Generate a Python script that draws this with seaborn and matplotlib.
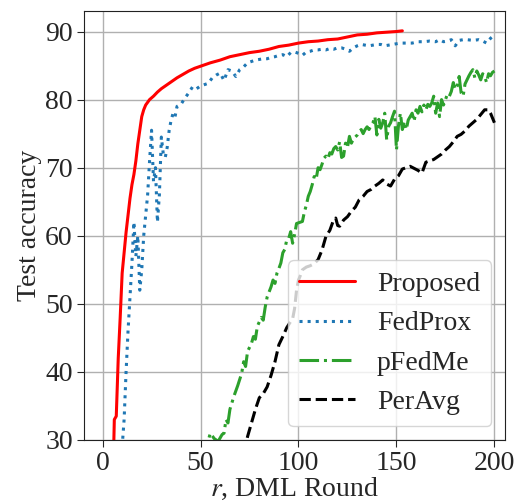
import matplotlib
matplotlib.use("Agg")
import matplotlib.pyplot as plt
import seaborn as sns

# Test accuracy per DML round
proposed_r = [5, 6, 7, 8, 9, 10, 11, 12, 13, 14, 15, 16, 17, 18, 19, 20, 21, 22, 24, 26,
              28, 30, 32, 35, 38, 41, 44, 47, 50, 55, 60, 65, 70, 75, 80, 85, 90, 95, 100,
              105, 110, 115, 120, 125, 130, 135, 140, 145, 150, 153]
proposed_acc = [20, 33, 33.5, 42, 48, 54.5, 57.5, 60.5, 63, 65.5, 67.5, 69, 71, 73.5, 75.5,
                77.5, 78.5, 79.2, 80, 80.5, 81.1, 81.6, 82, 82.6, 83.2, 83.7, 84.2, 84.6,
                84.9, 85.4, 85.8, 86.3, 86.6, 86.9, 87.1, 87.4, 87.8, 88.0, 88.3, 88.5,
                88.6, 88.8, 88.9, 89.2, 89.5, 89.6, 89.8, 89.9, 90.0, 90.1]

fedprox_r = [10, 11, 12, 13, 14, 15, 16, 17, 18, 19, 20, 21, 22, 23, 24, 25, 26, 27, 28, 29,
             30, 31, 32, 33, 34, 35, 36, 37, 38, 40, 42, 44, 46, 48, 50, 52, 54, 56, 58, 60,
             62, 64, 66, 68, 70, 72, 74, 76, 78, 80, 82, 84, 86, 88, 90, 92, 94, 96, 98, 100,
             102, 104, 106, 108, 110, 112, 114, 116, 118, 120, 122, 124, 126, 128, 130, 132,
             134, 136, 138, 140, 142, 144, 146, 148, 150, 152, 155, 158, 161, 164, 167, 170,
             172, 174, 176, 178, 180, 182, 184, 186, 189, 192, 194, 196, 198, 200]
fedprox_acc = [29, 33, 40, 46, 51, 56, 62, 57, 60, 52, 55, 60, 63, 66, 71, 75.5, 68, 70, 62,
               66, 74.5, 72, 71.5, 73, 75.5, 77, 78, 77.5, 79, 79.3, 80.2, 81, 81.9, 81.6,
               82, 82.2, 82.4, 83.2, 83.6, 83.9, 82.8, 84.4, 84.2, 83.4, 84.4, 84.8, 85.4,
               85.6, 85.8, 85.9, 86, 86, 86.2, 86.3, 86.5, 86.6, 86.3, 86.9, 87.0, 86.8,
               86.5, 87.0, 87.1, 87.3, 87.3, 87.4, 87.3, 87.5, 87.4, 87.6, 87.6, 87.4, 87.1,
               87.6, 87.9, 88.1, 88.0, 87.9, 88.0, 88.1, 88.1, 87.9, 88.0, 88.1, 88.2, 88.3,
               88.3, 88.3, 88.5, 88.5, 88.6, 88.5, 88.8, 88.5, 88.6, 88.8, 87.9, 88.7, 88.8,
               88.8, 88.7, 88.8, 88.6, 88.3, 89.0, 89.5]

pfedme_r = [50, 53, 55, 57, 59, 61, 62, 63, 64, 65, 67, 69, 71, 72, 73, 74, 76, 77, 78, 79,
            81, 82, 83, 84, 86, 87, 88, 89, 90, 91, 92, 93, 94, 95, 96, 97, 98, 99, 100,
            101, 102, 103, 104, 105, 106, 107, 108, 109, 110, 111, 112, 113, 114, 115, 116,
            117, 118, 119, 120, 121, 122, 123, 124, 125, 126, 127, 128, 130, 131, 132, 133,
            134, 135, 136, 137, 138, 139, 140, 141, 142, 143, 144, 145, 146, 147, 148, 149,
            150, 151, 152, 153, 154, 155, 156, 157, 158, 159, 160, 161, 162, 163, 164, 165,
            166, 167, 168, 169, 170, 171, 172, 173, 174, 175, 176, 177, 178, 179, 180, 181,
            182, 183, 184, 185, 186, 187, 188, 189, 190, 191, 192, 193, 194, 195, 196, 197,
            198, 199, 200]
pfedme_acc = [27, 29, 31, 30.2, 29.8, 30.8, 31, 33, 32.5, 34.5, 36.4, 38, 39.8, 41.5, 40.8,
              43, 44.2, 45.2, 44.8, 46.7, 48, 47.6, 49.5, 51, 52.5, 53.5, 53, 54.5, 55.2,
              56, 57.5, 58, 59.4, 59.6, 60.6, 58.9, 60.2, 61.8, 61.9, 62.0, 62.1, 63.5,
              64.5, 65.8, 66.5, 67.5, 68.7, 68.3, 70.0, 69.7, 70.5, 71.4, 71.7, 71.3, 72.2,
              72.0, 72.8, 73.1, 72.6, 73.8, 71.5, 71.7, 73.6, 73.0, 74.6, 73.6, 74.2, 74.8,
              75.3, 75.6, 75.0, 75.6, 76.0, 75.6, 76.2, 76.6, 77.5, 74.8, 77.1, 75.8, 76.6,
              78.0, 74.1, 76.1, 76.6, 77.5, 78.3, 72.6, 76.1, 78.0, 75.6, 76.8, 75.6, 77.0,
              77.5, 78.0, 76.8, 78.5, 78.0, 79.0, 78.2, 79.2, 78.5, 79.3, 79.0, 79.5, 80.5,
              78.0, 79.5, 77.5, 80.0, 79.2, 80.0, 80.8, 80.5, 81.2, 82.5, 81.5, 82.0, 83.4,
              81.0, 80.5, 82.3, 82.9, 83.5, 84.0, 84.4, 83.2, 84.2, 83.6, 82.9, 83.8, 83.4,
              82.5, 83.8, 83.5, 84.0, 84.2]

peravg_r = [72, 74, 76, 78, 80, 82, 84, 86, 88, 90, 92, 94, 96, 97, 98, 99, 100, 101, 102,
            104, 106, 108, 110, 112, 114, 116, 118, 119, 120, 121, 123, 125, 127, 129, 131,
            133, 135, 137, 139, 141, 143, 145, 147, 149, 151, 153, 155, 157, 159, 161, 163,
            165, 167, 169, 171, 173, 175, 177, 179, 181, 183, 185, 187, 189, 191, 193, 195,
            197, 198, 200]
peravg_acc = [28, 30.5, 32.5, 34.5, 36.2, 36.8, 37.8, 39.5, 41.5, 44, 45.2, 46.5, 47.4,
              47.8, 49.3, 52, 53.5, 54.2, 55, 55.4, 55.6, 55.9, 56.5, 57.9, 59.9, 60.8,
              62.4, 62.6, 61.5, 61.4, 62.3, 62.8, 63.6, 64.2, 65.3, 65.8, 66.5, 66.8, 67.3,
              67.7, 68.2, 67.6, 67.3, 68.3, 68.8, 69.8, 70.0, 70.2, 69.9, 69.6, 69.2, 70.8,
              71.0, 71.2, 71.6, 72.0, 72.6, 73.1, 73.8, 74.6, 74.9, 75.4, 76.1, 76.6, 77.1,
              77.8, 78.5, 78.5, 78.0, 76.6]

sns.set_style("ticks")
plt.rcParams['font.family'] = ['Liberation Serif', 'DejaVu Serif']
plt.rcParams['mathtext.fontset'] = 'stix'

fig, ax = plt.subplots(figsize=(5.15, 5.04), dpi=100)
fig.subplots_adjust(left=0.163, right=0.981, top=0.978, bottom=0.127)

sns.lineplot(x=proposed_r, y=proposed_acc, ax=ax, color='red', linestyle='-', lw=2.2, label='Proposed')
sns.lineplot(x=fedprox_r, y=fedprox_acc, ax=ax, color='tab:blue', linestyle=':', lw=2.2, label='FedProx')
sns.lineplot(x=pfedme_r, y=pfedme_acc, ax=ax, color='tab:green', linestyle='-.', lw=2.2, label='pFedMe')
sns.lineplot(x=peravg_r, y=peravg_acc, ax=ax, color='black', linestyle='--', lw=2.2, label='PerAvg')

ax.set_xlim(-9.5, 205.5)
ax.set_ylim(30, 93)
ax.set_xticks([0, 50, 100, 150, 200])
ax.set_yticks([30, 40, 50, 60, 70, 80, 90])
ax.grid(True, color='#b0b0b0', linewidth=1)
ax.tick_params(labelsize=20, length=5, pad=3)
for s in ax.spines.values():
    s.set_color('#222222')
ax.set_xlabel('$r$, DML Round', fontsize=20, labelpad=0)
ax.set_ylabel('Test accuracy', fontsize=20, labelpad=2)
ax.legend(loc='lower right', fontsize=20, handlelength=2.0, framealpha=0.8)

plt.savefig('out.png')
